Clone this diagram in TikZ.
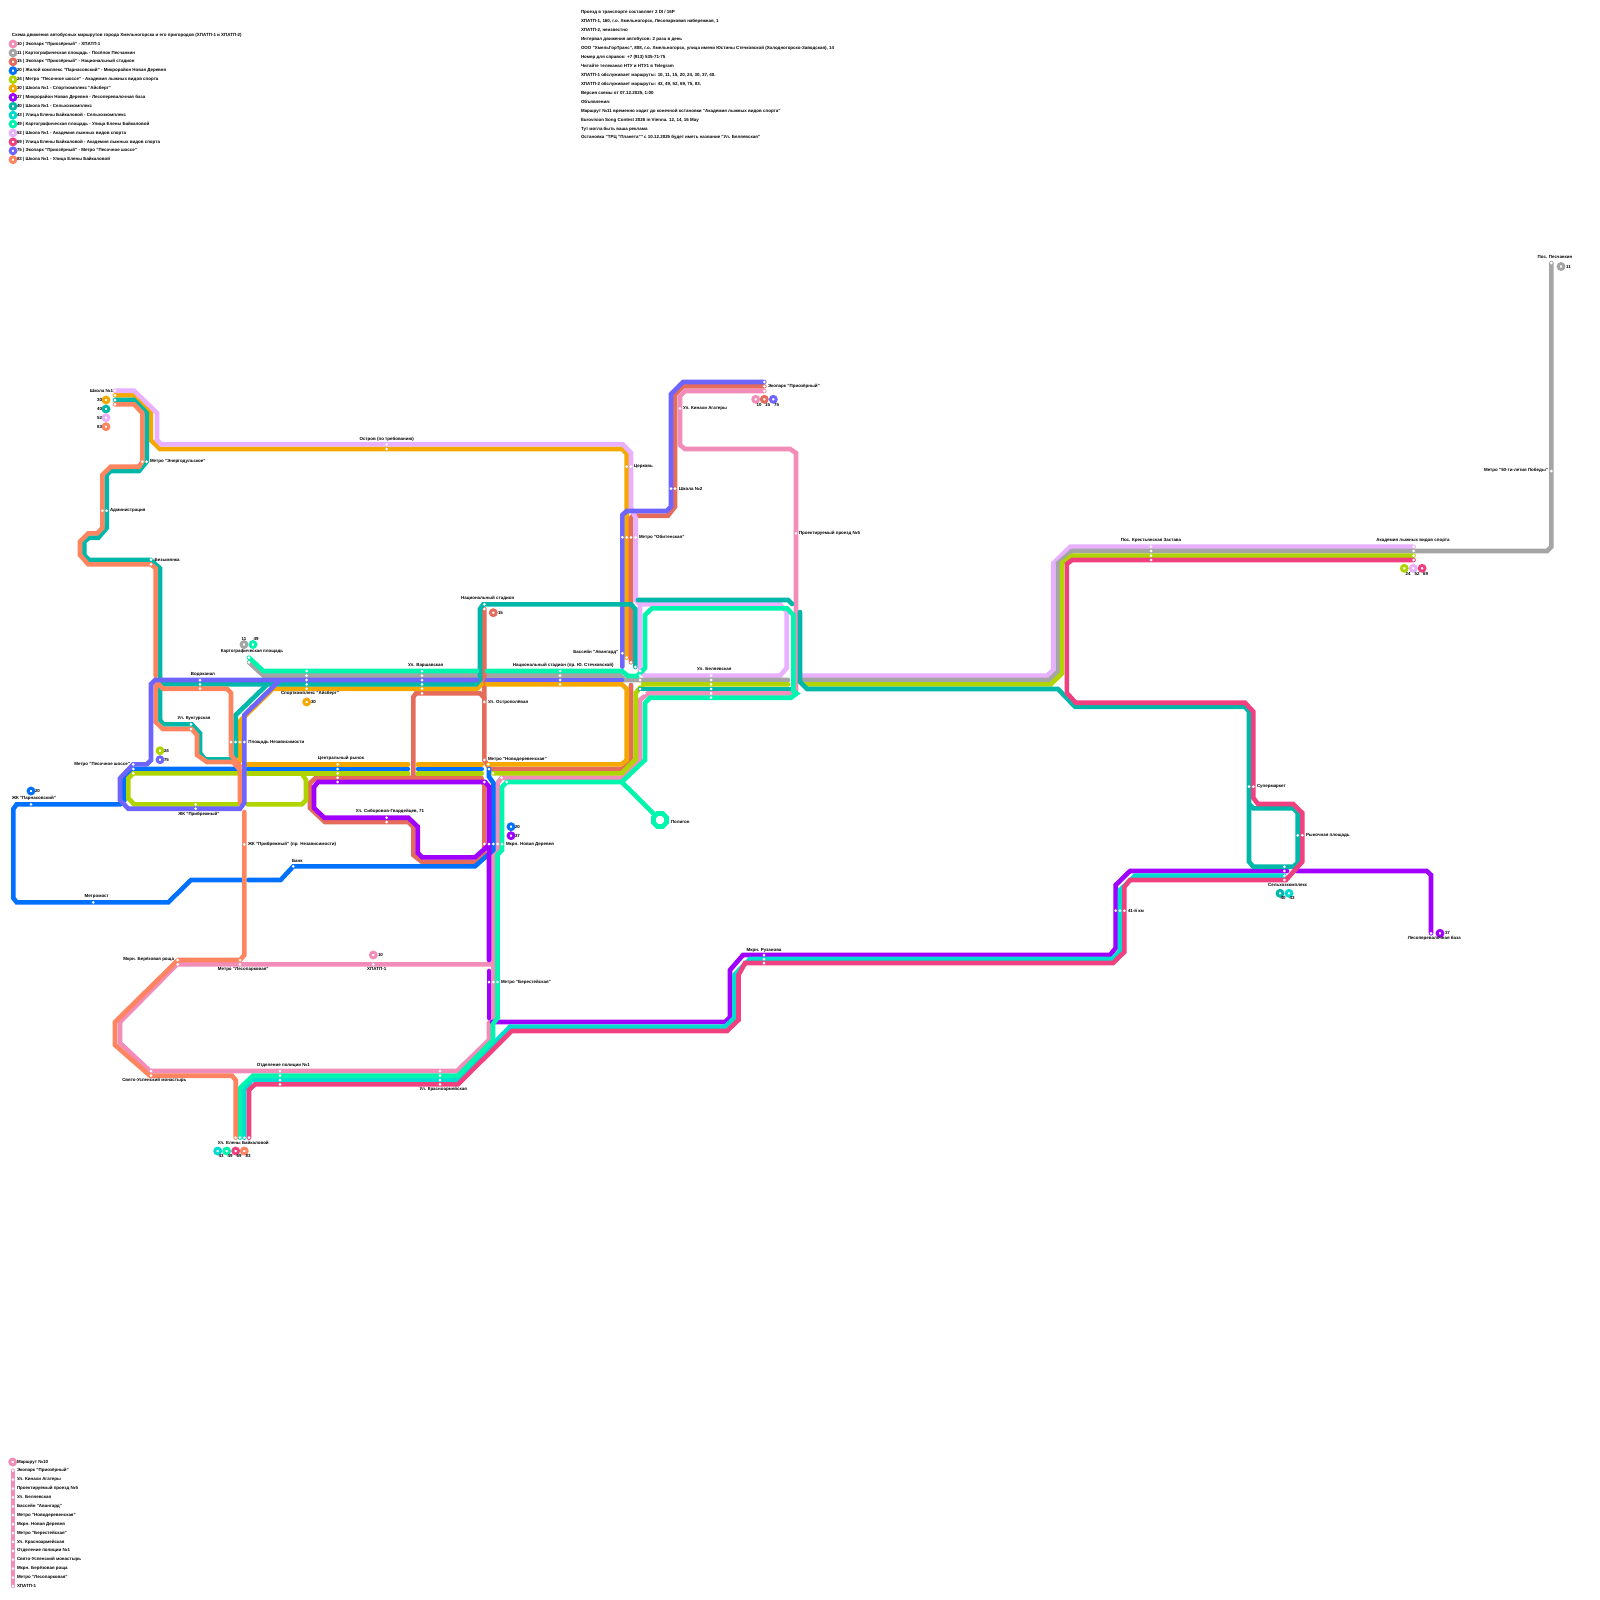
\documentclass[tikz,border=0pt]{standalone}
\usepackage{fontspec}
\setmainfont{Liberation Sans}
\definecolor{cA}{HTML}{F28CB8}
\definecolor{cB}{HTML}{A5A5A5}
\definecolor{cC}{HTML}{E56B5A}
\definecolor{cD}{HTML}{0070FF}
\definecolor{cE}{HTML}{B0D400}
\definecolor{cF}{HTML}{F5A800}
\definecolor{cG}{HTML}{A000FF}
\definecolor{cH}{HTML}{00B8A9}
\definecolor{cI}{HTML}{00DDD0}
\definecolor{cJ}{HTML}{00F5AE}
\definecolor{cK}{HTML}{E8B0FF}
\definecolor{cL}{HTML}{F0407F}
\definecolor{cM}{HTML}{6E64FF}
\definecolor{cN}{HTML}{FF8560}
\tikzset{
 rt/.style={line width=4.6pt,line cap=round,line join=miter},
 stn/.style={circle,fill=white,inner sep=0pt,outer sep=0pt,minimum size=3pt},
 ring/.style={circle,fill=white,draw=#1,line width=2.9pt,inner sep=0pt,outer sep=0pt,minimum size=5.8pt},
 lbl/.style={font=\fontsize{4.45}{5}\bfseries\selectfont,inner sep=0pt,outer sep=0pt,text=black}
}
\newcounter{nn}
\newcommand{\lab}[4]{\stepcounter{nn}\node[lbl,anchor=#1] (n\thenn) at (#2,#3) {#4};}
\newcommand{\rng}[3]{\stepcounter{nn}\node[ring=#1] (n\thenn) at (#2,#3) {};}
\begin{document}
\begin{tikzpicture}[x=1pt,y=-1pt]
\useasboundingbox (0,0) rectangle (1600,1600);
\fill[white] (0,0) rectangle (1600,1600);
% --- upper corridors drawn underneath
\draw[rt,cF] (115,395.3)--(134,395.3)--(150.7,412)--(150.7,440)--(160,449)--(622,449)--(626.7,453.5)--(626.7,657.7);
\draw[rt,cC] (764.3,386.3)--(683,386.3)--(675,394.5)--(675,506.7)--(668,515.7)--(633,515.7)--(631,518)--(631,662.3);
\draw[rt,cK] (115,390.7)--(134,390.7)--(157,413)--(157,440)--(161,444.3)--(622.7,444.3)--(631,453)--(631,508)--(635.7,518)--(635.7,600)--(640,604.3)--(640,671);
\draw[rt,cK] (640,604.3)--(780,604.3)--(786.7,611.7)--(786.7,668)--(780,675.7)--(645,675.7)--(640,671);
\draw[rt,cK] (802.7,675.7)--(1047,675.7)--(1053.2,670)--(1053.2,563.3)--(1070.4,546.7)--(1413.6,546.7);
\draw[rt,cM] (764.3,382)--(683,382)--(671,394)--(671,506.7)--(666.7,511)--(626.7,511)--(622.3,515)--(622.3,666.7);
% --- route 10
\draw[rt,cA] (764.3,391)--(685,391)--(680,396)--(680,445)--(685,449)--(790,449)--(796,453)--(796,690)--(793,693.3)--(648,693.3)--(640,700)--(640,760)--(621.7,777.7)--(501.7,777.7)--(497.5,783)--(497.5,850)--(493.3,855)--(493.3,1018)--(489,1023)--(489,1040)--(457,1071)--(150,1071)--(120,1043)--(120,1022)--(177,964.3)--(491,964.3);
% --- route 11
\draw[rt,cB] (249,662.3)--(263.3,675.5)--(477,675.5);
\draw[rt,cB] (487,675.5)--(620,675.5)--(625,680)--(788,680);
\draw[rt,cB] (802.7,680)--(1049,680)--(1057.9,671.7)--(1057.9,563.3)--(1072,551)--(1547,551)--(1551.4,546.7)--(1551.4,263);
% --- route 15 rest
\draw[rt,cC] (484.3,609)--(484.3,760)--(490,769)--(621.7,769)--(631,760)--(631,685);
\draw[rt,cC] (480,693.3)--(416,693.3)--(413.3,697)--(413.3,777.7);
\draw[rt,cC] (480,693.3)--(484.3,698);
\draw[rt,cC] (481,777.7)--(316,777.7)--(310,783)--(310,808)--(325,822)--(408.3,822)--(413.3,827)--(413.3,855)--(421.7,861.7)--(476.7,861.7)--(484.3,852)--(484.3,785)--(481,777.7);
% --- route 20
\draw[rt,cD] (489,769)--(489,776.7)--(493.3,783)--(493.3,850)--(475,866.3)--(293.3,866.3)--(280.6,880)--(248.3,880);
\draw[rt,cD] (241.7,880)--(191,880)--(168.3,902.3)--(16.7,902.3)--(13.3,898)--(13.3,809)--(16.7,804.3)--(120,804.3)--(124.3,800)--(124.3,778)--(133.3,769)--(237.3,769);
\draw[rt,cD] (247.7,769)--(408,769);
\draw[rt,cD] (418,769)--(481.7,769);
% --- route 24
\draw[rt,cE] (237.3,773.3)--(133.3,773.3)--(128.3,778.3)--(128.3,798)--(134,804.3)--(237.3,804.3);
\draw[rt,cE] (247.7,804.3)--(301.7,804.3)--(306,800)--(306,780)--(301.7,773.3);
\draw[rt,cE] (247.7,773.3)--(408,773.3);
\draw[rt,cE] (418,773.3)--(481.7,773.3);
\draw[rt,cE] (493,773.3)--(621.7,773.3)--(635.7,759)--(635.7,693)--(643,684.3)--(788,684.3);
\draw[rt,cE] (802.7,684.3)--(1050.7,684.3)--(1062.1,673.3)--(1062.1,563.3)--(1072,555.7)--(1413.6,555.7);
% --- route 30 rest
\draw[rt,cF] (240,761)--(240,721)--(273,688.7)--(477,688.7)--(481.7,684.3);
\draw[rt,cF] (487,684.3)--(622,684.3)--(626.7,689)--(626.7,760)--(621.7,764.3)--(488.3,764.3);
\draw[rt,cF] (481.7,764.3)--(418,764.3);
\draw[rt,cF] (408,764.3)--(247.7,764.3);
% --- route 37
\draw[rt,cG] (485,782)--(318,782)--(314,787)--(314,808)--(324.3,817.7)--(408.3,817.7)--(417.7,826.7)--(417.7,853)--(422.3,857.3)--(475,857.3)--(489,845);
\draw[rt,cG] (485,782)--(489,786.7)--(489,960);
\draw[rt,cG] (489,971)--(489,1018);
\draw[rt,cG] (492,1022)--(725,1022)--(730,1017)--(730,970)--(743,955)--(1110,955)--(1115.7,948)--(1115.7,885)--(1130,871)--(1287,871);
\draw[rt,cG] (1297,871)--(1426.7,871)--(1431,875)--(1431,933.3);
% --- route 40
\draw[rt,cH] (115,400)--(134,400)--(146.7,413)--(146.7,461.7)--(139,471)--(110.7,471)--(106.7,475)--(106.7,528)--(98.3,537.7)--(89.3,537.7)--(84.3,541.7)--(84.3,555)--(89,560)--(150.7,560)--(160,568.3)--(160,720)--(163.3,724.3)--(191.7,724.3)--(200,733.3)--(200,753)--(205,759.3)--(231,759.3);
\draw[rt,cH] (160,684.3)--(476,684.3)--(480,680)--(480,609)--(483.3,604.3)--(631,604.3)--(635.3,609)--(635.3,667);
\draw[rt,cH] (266.7,685)--(235.7,715)--(235.7,757);
\draw[rt,cH] (640,689)--(791,689);
\draw[rt,cH] (638,600)--(788,600)--(792,604);
\draw[rt,cH] (800,612)--(800,682)--(807,689)--(1057.9,689)--(1075,706.7)--(1245,706.7)--(1249,711.7)--(1249,861.7)--(1253.3,866.7)--(1293.3,866.7)--(1297.7,862.7)--(1297.7,813)--(1293.3,808.3)--(1253.3,808.3)--(1249,804);
% --- route 43
\draw[rt,cI] (244.3,1137.7)--(244.3,1090)--(251.7,1080)--(458,1080)--(510,1026.7)--(725,1026.7)--(734.3,1018)--(734.3,975)--(750,959)--(1112,959)--(1120,951)--(1120,890)--(1135,875.7)--(1284.3,875.7);
% --- route 49
\draw[rt,cJ] (249,657.7)--(263.3,671)--(477,671);
\draw[rt,cJ] (487,671)--(622,671)--(628,676)--(637,676)--(645,668)--(645,615)--(652,608.3)--(787,608.3)--(793.3,615)--(793.3,691)--(796.7,693.5)--(791,697.7)--(650,697.7)--(645,703)--(645,760)--(621.7,782)--(506.7,782)--(502,787)--(502,850)--(497.5,855)--(497.5,1018)--(493,1024)--(493,1040)--(458,1075.7)--(253,1075.7)--(240,1088)--(240,1137.7);
\draw[rt,cJ] (621.7,782)--(655,815);
\draw[cJ,line width=4.6pt,line join=miter] (662.7,813.5)--(666.5,817.3)--(666.5,822.7)--(662.7,826.5)--(657.3,826.5)--(653.5,822.7)--(653.5,817.3)--(657.3,813.5)--cycle;
% --- route 69
\draw[rt,cL] (249,1137.7)--(249,1090)--(255,1084.3)--(458,1084.3)--(511.7,1031)--(727,1031)--(738.5,1020)--(738.5,975)--(745,963)--(1113,963)--(1124.3,952)--(1124.3,887)--(1130,880)--(1286,880)--(1302.3,861.7)--(1302.3,813)--(1293,804)--(1258,804)--(1253.3,798)--(1253.3,711.7)--(1245,702.7)--(1075.7,702.7)--(1066.8,693)--(1066.8,564)--(1072,560)--(1413.6,560);
% --- route 83
\draw[rt,cN] (115,404.3)--(134,404.3)--(142.3,413)--(142.3,461.7)--(139,466.7)--(110.7,466.7)--(102.3,475)--(102.3,528)--(97.3,533.3)--(88.3,533.3)--(80,541.7)--(80,555)--(88.3,564.3)--(150.7,564.3)--(155.7,568.3)--(155.7,676);
\draw[rt,cN] (155.7,685)--(155.7,722)--(163,729)--(191.7,729)--(197,735)--(197,755)--(207,762)--(233,762)--(240,770)--(240,803);
\draw[rt,cN] (155.7,681)--(163,688.7)--(227,688.7)--(231,693)--(231,755)--(240,766);
\draw[rt,cN] (244.3,812)--(244.3,955)--(240,960)--(178,960)--(115,1022)--(115,1045)--(150,1075.7)--(232,1075.7)--(235.7,1080)--(235.7,1137.7);
% --- route 75 rest
\draw[rt,cM] (622,680)--(487,680);
\draw[rt,cM] (477,680)--(155,680)--(151,684)--(151,760)--(146.7,764.3)--(133.3,764.3)--(120,778.3)--(120,800)--(128.3,808.7)--(240,808.7)--(244.3,803)--(244.3,715)--(280,680);
% --- legend lists
\draw[rt,cA] (13,1470.7)--(13,1586);
% --- stations
\foreach \x/\y [count=\i] in {115/390.7,115/395.3,115/400,115/404.3,142.3/461.7,146.7/461.7,102.3/510.7,106.7/510.7,151/559.7,151/564.3,386.7/444.3,386.7/449,626.7/466.7,631/466.7,622.3/537.3,626.7/537.3,631/537.3,635.7/537.3,671/488.7,675/488.7,680/408.3,764.3/382,764.3/386.3,764.3/391,796/533.3,249/657.7,249/662.3,306.7/671,306.7/675.7,306.7/680,306.7/684.3,306.7/688.7,200/680,200/684.3,200/688.7,191/724.3,191/729,231/742,235.7/742,240/742,244.3/742,133.3/764.3,133.3/769,133.3/773.3,31/804.3,195.7/804.3,195.7/808.7,93.3/902.3,293.3/866.3,244.3/844.3,337.7/764.3,337.7/769,337.7/773.3,337.7/777.7,337.7/782,386.7/817.7,386.7/822,484.3/844,489/844,493.3/844,497.7/844,502/844,489/982,493.3/982,497.7/982,373.3/964.3,177.7/960,177.7/964.3,240/960,240/964.3,280/1071,280/1075.7,280/1080,280/1084.3,440/1071,440/1075.7,440/1080,440/1084.3,151/1071,151/1075.7,235.7/1137.7,240/1137.7,244.3/1137.7,249/1137.7,484.3/604.3,484.3/609,422/671,422/675.7,422/680,422/684.3,422/688.7,422/693.3,560/671,560/675.7,560/680,560/684.3,484.3/702,484.3/760,488.3/764.3,489/769,493/773.3,501.7/777.7,506.7/782,484.3/782,622.3/653.3,626.7/657.7,631/662.3,635.3/667,640/671,640/675.7,640/680,640/684.3,640/689,644.3/693.3,711/675.7,711/680,711/684.3,711/689,711/693.3,711/697.7,1151/546.7,1151/551,1151/555.7,1151/560,1413.6/546.7,1413.6/551,1413.6/555.7,1413.6/560,1551.4/263,1551.4/471,1249/786.7,1253.3/786.7,1297.7/835.3,1302.3/835.3,1284.3/866.7,1284.3/871,1284.3/875.7,1284.3/880,1115.7/910.7,1120/910.7,1124.3/910.7,764/955,764/959,764/963,1431/933.3,
13/1470.7,13/1479.6,13/1488.5,13/1497.4,13/1506.3,13/1515.2,13/1524.1,13/1533,13/1541.9,13/1550.8,13/1559.7,13/1568.6,13/1577.5,13/1586}
  {\node[stn] (s\i) at (\x,\y) {};}
% --- rings
\rng{cF}{106}{400}\rng{cH}{106}{409}\rng{cK}{106}{417.7}\rng{cN}{106}{426.7}
\rng{cB}{244}{644.5}\rng{cJ}{253}{644.5}
\rng{cF}{306.7}{702}\rng{cE}{160}{750.7}\rng{cM}{160}{759.7}\rng{cD}{31}{791}
\rng{cC}{493.3}{612.7}\rng{cD}{511}{826.7}\rng{cG}{511}{835.7}\rng{cA}{373.3}{955}
\rng{cI}{217.7}{1151}\rng{cJ}{226.7}{1151}\rng{cL}{235.7}{1151}\rng{cN}{244.3}{1151}
\rng{cA}{755.7}{399.3}\rng{cC}{764.3}{399.3}\rng{cM}{773.3}{399.3}
\rng{cE}{1404.3}{568.3}\rng{cK}{1413.2}{568.3}\rng{cL}{1422.1}{568.3}
\rng{cB}{1561}{266.5}\rng{cH}{1280}{893.3}\rng{cI}{1289}{893.3}\rng{cG}{1440}{933.3}
\rng{cA}{12.7}{1462}
% --- legend top
\lab{west}{12}{35}{Схема движения автобусных маршрутов города Хмельногорска и его пригородов (ХПАТП-1 и ХПАТП-2)}
\foreach \c/\t [count=\i from 0] in {cA/{10 | Экопарк "Приозёрный" - ХПАТП-1},cB/{11 | Картографическая площадь - Посёлок Песчанкин},cC/{15 | Экопарк "Приозёрный" - Национальный стадион},cD/{20 | Жилой комплекс "Парнасовский" - Микрорайон Новая Деревня},cE/{24 | Метро "Песочное шоссе" - Академия лыжных видов спорта},cF/{30 | Школа №1 - Спорткомплекс "Айсберг"},cG/{37 | Микрорайон Новая Деревня - Лесоперевалочная база},cH/{40 | Школа №1 - Сельхозкомплекс},cI/{43 | Улица Елены Байкаловой - Сельхозкомплекс},cJ/{49 | Картографическая площадь - Улица Елены Байкаловой},cK/{52 | Школа №1 - Академия лыжных видов спорта},cL/{69 | Улица Елены Байкаловой - Академия лыжных видов спорта},cM/{75 | Экопарк "Приозёрный" - Метро "Песочное шоссе"},cN/{83 | Школа №1 - Улица Елены Байкаловой}}
 {\pgfmathsetmacro{\yy}{44+8.9*\i}
  \node[ring=\c] (lr\i) at (13,\yy) {};
  \node[lbl,anchor=west] (lt\i) at (17,\yy) {\t};}
% --- info text
\foreach \t [count=\i from 0] in {{Проезд в транспорте составляет 2 DI / 16Р},{ХПАТП-1, 160, г.о. Хмельногорск, Лесопарковая набережная, 1},{ХПАТП-2, неизвестно},{Интервал движения автобусов: 2 раза в день},{ООО "ХмельГорТранс", 808, г.о. Хмельногорск, улица имени Юстины Стечковской (Холодногорско-Заводская), 14},{Номер для справок: +7 (913) 535-71-75},{Читайте телеканал НТУ и НТУ1 в Telegram},{ХПАТП-1 обслуживает маршруты: 10, 11, 15, 20, 24, 30, 37, 40.},{ХПАТП-2 обслуживает маршруты: 43, 49, 52, 69, 75, 83.},{Версия схемы от 07.12.2025, 1:00},{Объявления:},{Маршрут №11 временно ходит до конечной остановки "Академия лыжных видов спорта"},{Eurovision Song Contest 2026 in Vienna. 12, 14, 16 May},{Тут могла быть ваша реклама},{Остановка "ТРЦ "Планета"" с 10.12.2025 будет иметь название "Ул. Беляевская"}}
 {\pgfmathsetmacro{\yy}{12.5+8.95*\i}
  \node[lbl,anchor=west] (it\i) at (581,\yy) {\t};}
% --- bottom list
\lab{west}{17}{1462}{Маршрут №10}
\foreach \t [count=\i from 0] in {{Экопарк "Приозёрный"},{Ул. Кинахи Агатеры},{Проектируемый проезд №5},{Ул. Беляевская},{Бассейн "Авангард"},{Метро "Новодеревенская"},{Мкрн. Новая Деревня},{Метро "Берестейская"},{Ул. Красноармейская},{Отделение полиции №1},{Свято-Успенский монастырь},{Мкрн. Берёзовая роща},{Метро "Лесопарковая"},{ХПАТП-1}}
 {\pgfmathsetmacro{\yy}{1470.7+8.9*\i}
  \node[lbl,anchor=west] (bl\i) at (17,\yy) {\t};}
% --- station labels
\lab{east}{113}{390.7}{Школа №1}
\lab{east}{102}{400}{30}\lab{east}{102}{409}{40}\lab{east}{102}{417.7}{52}\lab{east}{102}{426.7}{83}
\lab{west}{150}{461.7}{Метро "Энергодульское"}
\lab{west}{110}{510.7}{Администрация}
\lab{west}{154.7}{559.7}{Безымянка}
\lab{south}{386.7}{441}{Остров (по требованию)}
\lab{west}{634}{466.7}{Церковь}
\lab{west}{639}{537.3}{Метро "Обитенская"}
\lab{west}{679}{488.7}{Школа №2}
\lab{west}{683}{408.3}{Ул. Кинахи Агатеры}
\lab{west}{768}{386.3}{Экопарк "Приозёрный"}
\lab{center}{759}{405}{10}\lab{center}{767.7}{405}{15}\lab{center}{776.7}{405}{75}
\lab{west}{799}{533.3}{Проектируемый проезд №5}
\lab{center}{244}{639}{11}\lab{center}{256}{639}{49}
\lab{center}{252}{651.5}{Картографическая площадь}
\lab{center}{203}{674}{Водоканал}
\lab{center}{310}{693.3}{Спорткомплекс "Айсберг"}
\lab{west}{311}{702}{30}
\lab{center}{194}{718}{Ул. Кунгурская}
\lab{west}{248.3}{742}{Площадь Независимости}
\lab{west}{164}{750.7}{24}\lab{west}{164}{759.7}{75}
\lab{east}{130}{764.3}{Метро "Песочное шоссе"}
\lab{west}{35}{791}{20}
\lab{center}{34}{798.3}{ЖК "Парнасовский"}
\lab{center}{199}{814}{ЖК "Прибрежный"}
\lab{center}{96.7}{896.5}{Метромост}
\lab{west}{248}{844.3}{ЖК "Прибрежный" (пр. Независимости)}
\lab{west}{292}{860.7}{Банк}
\lab{center}{341}{758}{Центральный рынок}
\lab{center}{390}{811.7}{Ул. Сиборовов-Гвардейцев, 71}
\lab{center}{487.7}{598.3}{Национальный стадион}
\lab{west}{498}{612.7}{15}
\lab{center}{425.7}{665}{Ул. Варшавская}
\lab{center}{563.3}{665}{Национальный стадион (пр. Ю. Стечковской)}
\lab{west}{488}{702}{Ул. Острополёвая}
\lab{west}{488}{759.5}{Метро "Новодеревенская"}
\lab{east}{618.3}{652.7}{Бассейн "Авангард"}
\lab{center}{714.3}{669.3}{Ул. Беляевская}
\lab{west}{671}{821.5}{Полигон}
\lab{west}{515}{826.7}{20}\lab{west}{515}{835.7}{37}
\lab{west}{506}{844}{Мкрн. Новая Деревня}
\lab{west}{378}{955}{10}
\lab{center}{376.7}{969.3}{ХПАТП-1}
\lab{west}{501}{982}{Метро "Берестейская"}
\lab{east}{174}{959.5}{Мкрн. Берёзовая роща}
\lab{center}{243.3}{969.3}{Метро "Лесопарковая"}
\lab{center}{283.3}{1065}{Отделение полиции №1}
\lab{center}{443.3}{1089.3}{Ул. Красноармейская}
\lab{center}{154.3}{1080.7}{Свято-Успенский монастырь}
\lab{center}{243.3}{1142.7}{Ул. Елены Байкаловой}
\lab{center}{221}{1156}{43}\lab{center}{230}{1156}{49}\lab{center}{239}{1156}{69}\lab{center}{248}{1156}{83}
\lab{center}{764}{950}{Мкрн. Рузанова}
\lab{west}{1128}{910.7}{41-й км}
\lab{west}{1257}{786.7}{Супермаркет}
\lab{west}{1306}{835.3}{Рыночная площадь}
\lab{center}{1287.7}{885}{Сельхозкомплекс}
\lab{center}{1283}{898}{40}\lab{center}{1292}{898}{43}
\lab{west}{1445}{933.3}{37}
\lab{center}{1434.3}{938.3}{Лесоперевалочная база}
\lab{center}{1151}{540.5}{Пос. Крестьянская Застава}
\lab{center}{1413}{540.5}{Академия лыжных видов спорта}
\lab{center}{1408}{574}{24}\lab{center}{1417}{574}{52}\lab{center}{1425.5}{574}{69}
\lab{center}{1555}{256.5}{Пос. Песчанкин}
\lab{west}{1566}{266.5}{11}
\lab{east}{1548}{470.5}{Метро "50-ти-летия Победы"}
\end{tikzpicture}
\end{document}
